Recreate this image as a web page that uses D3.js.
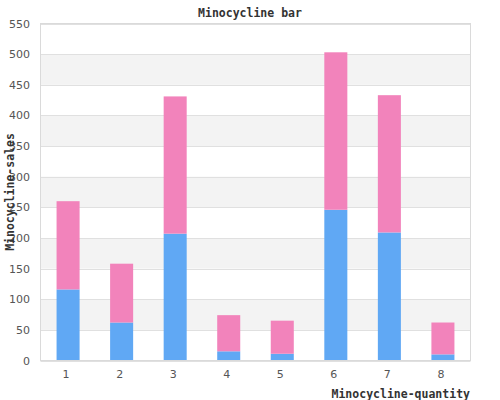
<!DOCTYPE html>
<html><head><meta charset="utf-8">
<script src="https://cdn.jsdelivr.net/npm/d3@7"></script>
<style>body{margin:0;background:#fff}svg{display:block}</style>
</head><body>
<svg id="c" width="500" height="400"></svg>
<script>
const categories = ["1","2","3","4","5","6","7","8"];
const seriesA = [116, 62, 207, 15, 11, 246, 209, 10];
const seriesB = [144, 96, 224, 59, 54, 257, 224, 52];
const yTicks = [0,50,100,150,200,250,300,350,400,450,500,550];
const colors = ["#60a8f4", "#f283bb"];

const svg = d3.select("#c");
const m = {l: 40.5, r: 470.5, t: 23.5, b: 360.5};
const x = d3.scaleBand().domain(categories).range([m.l, m.r]).paddingInner(0.57).paddingOuter(0.3);
const y = d3.scaleLinear().domain([0, 550]).range([m.b, m.t]);

// alternating bands
for (let i = 0; i < yTicks.length - 1; i++) {
  if (i % 2 === 1) {
    svg.append("rect").attr("x", m.l).attr("width", m.r - m.l)
      .attr("y", y(yTicks[i+1])).attr("height", y(yTicks[i]) - y(yTicks[i+1]))
      .attr("fill", "#f3f3f3");
  }
}
// grid lines
svg.append("g").selectAll("line").data(yTicks).join("line")
  .attr("x1", m.l).attr("x2", m.r)
  .attr("y1", d => Math.round(y(d)) + 0.5).attr("y2", d => Math.round(y(d)) + 0.5)
  .attr("stroke", "#e0e0e0").attr("stroke-width", 1);

// stacked bars
const data = categories.map((c, i) => ({cat: c, a: seriesA[i], b: seriesB[i]}));
const stack = d3.stack().keys(["a", "b"])(data);
svg.append("g").selectAll("g").data(stack).join("g")
  .attr("fill", (d, i) => colors[i])
  .selectAll("rect").data(d => d).join("rect")
  .attr("x", d => x(d.data.cat)).attr("width", x.bandwidth())
  .attr("y", d => y(d[1])).attr("height", d => y(d[0]) - y(d[1]));

// frame
svg.append("rect").attr("x", m.l).attr("y", m.t).attr("width", m.r - m.l).attr("height", m.b - m.t)
  .attr("fill", "none").attr("stroke", "#dadada").attr("stroke-width", 1);

// y axis labels
svg.append("g").selectAll("text").data(yTicks).join("text")
  .attr("x", 30).attr("y", d => y(d) + 4)
  .attr("text-anchor", "end").attr("font-family", "DejaVu Sans").attr("font-size", 11)
  .attr("fill", "#555").text(d => d);

// x axis labels
svg.append("g").selectAll("text").data(categories).join("text")
  .attr("x", d => x(d) + x.bandwidth() / 2 - 2).attr("y", 378)
  .attr("text-anchor", "middle").attr("font-family", "DejaVu Sans").attr("font-size", 11)
  .attr("fill", "#555").text(d => d);

const titleFont = "DejaVu Sans Mono";
svg.append("text").attr("x", 250).attr("y", 17).attr("text-anchor", "middle")
  .attr("font-family", titleFont).attr("font-weight", "bold").attr("font-size", 11.5)
  .attr("fill", "#333").text("Minocycline bar");
svg.append("text").attr("x", 470).attr("y", 398).attr("text-anchor", "end")
  .attr("font-family", titleFont).attr("font-weight", "bold").attr("font-size", 11.5)
  .attr("fill", "#333").text("Minocycline-quantity");
svg.append("text").attr("transform", "translate(14,192) rotate(-90)").attr("text-anchor", "middle")
  .attr("font-family", titleFont).attr("font-weight", "bold").attr("font-size", 11.5)
  .attr("fill", "#333").text("Minocycline-sales");
</script>
</body></html>
